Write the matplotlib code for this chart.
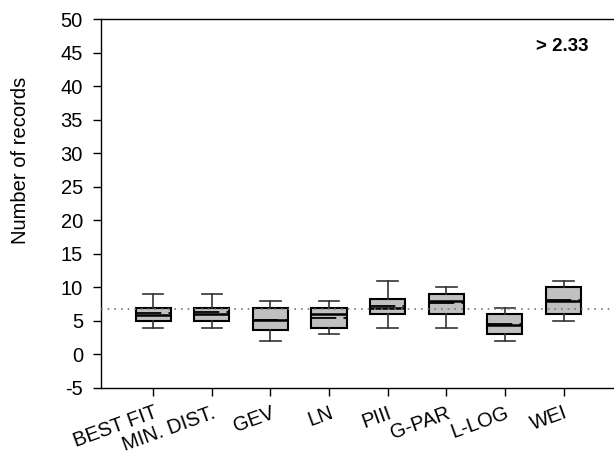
import matplotlib.pyplot as plt

plt.rcParams['font.family'] = ['Liberation Sans', 'DejaVu Sans']
plt.rcParams['axes.unicode_minus'] = False

# box statistics
labels = ['BEST FIT', 'MIN. DIST.', 'GEV', 'LN', 'PIII', 'G-PAR', 'L-LOG', 'WEI']
whislo = [4, 4, 2, 3, 4, 4, 2, 5]
q1 = [5, 5, 3.7, 4, 6, 6, 3, 6]
med = [5.9, 6.0, 5.1, 6.0, 7.0, 8.0, 4.4, 8.0]
mean = [6.2, 6.3, 5.2, 5.5, 7.2, 7.7, 4.5, 8.1]
q3 = [7, 7, 7, 7, 8.2, 9, 6, 10]
whishi = [9, 9, 8, 8, 11, 10, 7, 11]
ref_value = 6.8

stats = []
for i in range(len(labels)):
    stats.append(dict(label=labels[i], whislo=whislo[i], q1=q1[i], med=med[i],
                      mean=mean[i], q3=q3[i], whishi=whishi[i], fliers=[]))

fig = plt.figure(figsize=(6.14, 4.57), dpi=100)
ax = fig.add_axes([0.1645, 0.151, 0.8335, 0.807])

pos = list(range(1, len(labels) + 1))
ax.bxp(stats, positions=pos, widths=0.6, capwidths=0.35, patch_artist=True,
       showmeans=True, meanline=True,
       boxprops=dict(facecolor='#c0c0c0', edgecolor='black', linewidth=1.5),
       whiskerprops=dict(color='#333333', linewidth=1.2),
       capprops=dict(color='#333333', linewidth=1.2),
       medianprops=dict(color='black', linewidth=1.8),
       meanprops=dict(color='black', linewidth=1.3, linestyle=(0, (14, 4))))

ax.axhline(ref_value, color='#777777', linestyle=(0, (1, 3)), linewidth=1.2, zorder=5)

ax.set_xlim(0.11, 8.84)
ax.set_ylim(-5, 50)
ax.set_yticks(range(-5, 51, 5))
ax.set_xticks(pos)
ax.set_xticklabels(labels, rotation=20, ha='right', rotation_mode='anchor')
ax.tick_params(axis='both', labelsize=14.5, direction='out', length=6, width=1)
ax.tick_params(axis='y', pad=7)
ax.tick_params(axis='x', pad=5)
ax.spines['right'].set_visible(False)
for s in ['left', 'bottom', 'top']:
    ax.spines[s].set_linewidth(1)
ax.set_ylabel('Number of records', fontsize=14.5)
ax.yaxis.set_label_coords(-0.139, 0.618)

ax.text(0.953, 0.927, '> 2.33', transform=ax.transAxes, ha='right', va='center',
        fontsize=13.5, fontweight='bold')

fig.savefig('out.png', dpi=100)
